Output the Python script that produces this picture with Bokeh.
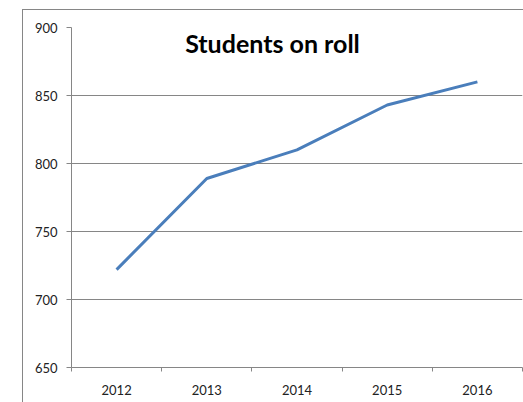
from bokeh.plotting import figure
from bokeh.models import Range1d, FixedTicker, Label, InlineStyleSheet
from bokeh.embed import file_html
from bokeh.resources import INLINE

years = [2012, 2013, 2014, 2015, 2016]
students = [722, 789, 810, 843, 860]
y_ticks = [650, 700, 750, 800, 850, 900]
title_text = "Students on roll"

GRID = "#868686"
FONT = "Lato"

p = figure(width=523, height=402, output_backend="svg", toolbar_location=None,
           x_range=Range1d(years[0] - 0.5, years[-1] + 0.5),
           y_range=Range1d(y_ticks[0], y_ticks[-1]),
           min_border_left=71, min_border_right=1, min_border_top=27, min_border_bottom=35)
p.outline_line_color = None
p.background_fill_color = "white"
p.border_fill_color = "white"

p.line(years, students, line_color="#4A7EBB", line_width=3)

# x axis
p.xaxis.ticker = FixedTicker(ticks=years, minor_ticks=[y - 0.5 for y in years] + [years[-1] + 0.5])
p.xaxis.major_label_overrides = {y: str(y) for y in years}
p.xaxis.major_tick_line_color = None
p.xaxis.minor_tick_line_color = GRID
p.xaxis.minor_tick_in = 0
p.xaxis.minor_tick_out = 4
p.xaxis.axis_line_color = GRID
p.xaxis.major_label_text_font = FONT
p.xaxis.major_label_text_font_size = "13px"
p.xaxis.major_label_text_color = "#222222"
p.xaxis.major_label_standoff = 11
p.xgrid.grid_line_color = None

# y axis
p.yaxis.ticker = FixedTicker(ticks=y_ticks)
p.yaxis.minor_tick_line_color = None
p.yaxis.major_tick_line_color = GRID
p.yaxis.major_tick_in = 0
p.yaxis.major_tick_out = 5
p.yaxis.axis_line_color = GRID
p.yaxis.major_label_text_font = FONT
p.yaxis.major_label_text_font_size = "13px"
p.yaxis.major_label_text_color = "#222222"
p.yaxis.major_label_standoff = 9
p.ygrid.grid_line_color = GRID
p.ygrid.grid_line_alpha = 1

# chart-area border (left and top edges visible in the window)
p.stylesheets = [InlineStyleSheet(css=(
    ":host::before { content: ''; position: absolute; left: 22px; top: 9px; "
    "right: -10px; bottom: -10px; border-left: 1px solid #868686; "
    "border-top: 1px solid #868686; z-index: 10; pointer-events: none; }"))]

# title inside plot
p.add_layout(Label(x=2012.76, y=900, text=title_text, text_font=FONT,
                   text_font_style="bold", text_font_size="25px",
                   text_color="black", text_baseline="top", text_align="left"))

open("out.html", "w").write(file_html(p, INLINE))
